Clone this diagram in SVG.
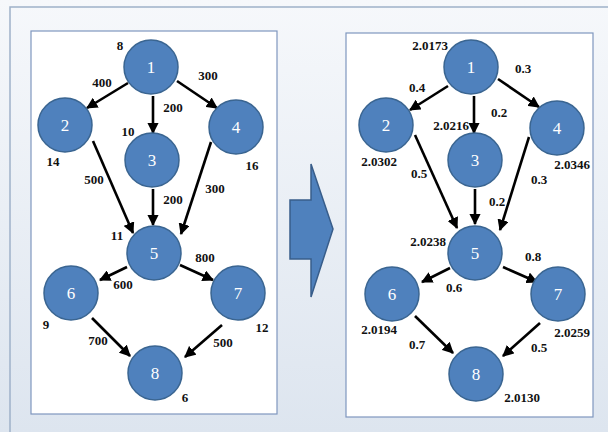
<svg xmlns="http://www.w3.org/2000/svg" width="608" height="432" viewBox="0 0 608 432">
<defs>
<linearGradient id="bg" x1="0" y1="0" x2="0" y2="1">
<stop offset="0" stop-color="#f6f8fb"/>
<stop offset="1" stop-color="#dde5ef"/>
</linearGradient>
<marker id="ah" viewBox="0 0 10 10" refX="9" refY="5" markerWidth="4.4" markerHeight="4.4" orient="auto" markerUnits="strokeWidth">
<path d="M0,0 L10,5 L0,10 Z" fill="#000"/>
</marker>
<style>
.frame{fill:#fff;stroke:#7f97be;stroke-width:1.2}
.node circle{fill:#4f81bd;stroke:#3a6591;stroke-width:1.5}
.node text{font-family:'Liberation Serif','DejaVu Serif',serif;font-size:17px;fill:#fff;text-anchor:middle}
.edges line{stroke:#000;stroke-width:2.6;marker-end:url(#ah)}
.lbl text{font-family:'Liberation Serif','DejaVu Serif',serif;font-size:13px;font-weight:bold;fill:#111;text-anchor:middle}
</style>
</defs>
<rect x="0" y="0" width="608" height="432" fill="url(#bg)"/>
<rect x="10" y="7" width="610" height="440" fill="none" stroke="#9fb1c9" stroke-width="1.5"/>
<rect class="frame" x="31" y="31" width="246" height="383"/>
<rect class="frame" x="346" y="33" width="247" height="384"/>
<path id="bigarrow" d="M290,200 L311,200 L311,164 L333,229 L311,297 L311,259 L290,259 Z" fill="#4f81bd" stroke="#385d8a" stroke-width="1.5"/>

<g id="edges-left" class="edges">
<line x1="128" y1="83" x2="87" y2="108"/>
<line x1="153" y1="96" x2="153" y2="133"/>
<line x1="177" y1="81" x2="217" y2="108"/>
<line x1="93" y1="141" x2="133" y2="233"/>
<line x1="153" y1="189" x2="153" y2="225"/>
<line x1="211" y1="142" x2="181" y2="234"/>
<line x1="127" y1="267" x2="100" y2="280"/>
<line x1="180" y1="265" x2="213" y2="280"/>
<line x1="92" y1="318" x2="130" y2="356"/>
<line x1="222" y1="325" x2="185" y2="357"/>
</g>
<g id="edges-right" class="edges">
<line x1="448" y1="86" x2="410" y2="110"/>
<line x1="474" y1="96" x2="474" y2="133"/>
<line x1="498" y1="79" x2="539" y2="107"/>
<line x1="415" y1="135" x2="457" y2="228"/>
<line x1="475" y1="189" x2="475" y2="224"/>
<line x1="529" y1="137" x2="500" y2="230"/>
<line x1="450" y1="268" x2="422" y2="282"/>
<line x1="503" y1="267" x2="537" y2="282"/>
<line x1="415" y1="316" x2="453" y2="353"/>
<line x1="540" y1="323" x2="503" y2="356"/>
</g>

<g id="L1" class="node"><circle cx="151" cy="67" r="27"/><text x="151" y="73">1</text></g>
<g id="L2" class="node"><circle cx="65" cy="125" r="27"/><text x="65" y="131">2</text></g>
<g id="L3" class="node"><circle cx="152" cy="160" r="27"/><text x="152" y="166">3</text></g>
<g id="L4" class="node"><circle cx="236" cy="127" r="27"/><text x="236" y="133">4</text></g>
<g id="L5" class="node"><circle cx="154" cy="253" r="27"/><text x="154" y="259">5</text></g>
<g id="L6" class="node"><circle cx="71" cy="293" r="27"/><text x="71" y="299">6</text></g>
<g id="L7" class="node"><circle cx="238" cy="293" r="27"/><text x="238" y="299">7</text></g>
<g id="L8" class="node"><circle cx="155" cy="373" r="27"/><text x="155" y="379">8</text></g>

<g id="R1" class="node"><circle cx="471" cy="67" r="27"/><text x="471" y="73">1</text></g>
<g id="R2" class="node"><circle cx="386" cy="125" r="27"/><text x="386" y="131">2</text></g>
<g id="R3" class="node"><circle cx="475" cy="160" r="27"/><text x="475" y="166">3</text></g>
<g id="R4" class="node"><circle cx="557" cy="128" r="27"/><text x="557" y="134">4</text></g>
<g id="R5" class="node"><circle cx="475" cy="253" r="27"/><text x="475" y="259">5</text></g>
<g id="R6" class="node"><circle cx="392" cy="294" r="27"/><text x="392" y="300">6</text></g>
<g id="R7" class="node"><circle cx="558" cy="294" r="27"/><text x="558" y="300">7</text></g>
<g id="R8" class="node"><circle cx="476" cy="374" r="27"/><text x="476" y="380">8</text></g>

<g id="labels-left" class="lbl">
<text x="120" y="50">8</text>
<text x="102" y="87">400</text>
<text x="208" y="80">300</text>
<text x="173" y="112">200</text>
<text x="128" y="136">10</text>
<text x="53" y="166">14</text>
<text x="252" y="170">16</text>
<text x="94" y="184">500</text>
<text x="215" y="193">300</text>
<text x="173" y="204">200</text>
<text x="117" y="240">11</text>
<text x="205" y="262">800</text>
<text x="123" y="289">600</text>
<text x="46" y="329">9</text>
<text x="262" y="332">12</text>
<text x="98" y="345">700</text>
<text x="223" y="347">500</text>
<text x="185" y="402">6</text>
</g>
<g id="labels-right" class="lbl">
<text x="430" y="50">2.0173</text>
<text x="523" y="73">0.3</text>
<text x="417" y="92">0.4</text>
<text x="499" y="117">0.2</text>
<text x="451" y="130">2.0216</text>
<text x="379" y="166">2.0302</text>
<text x="572" y="169">2.0346</text>
<text x="419" y="178">0.5</text>
<text x="539" y="184">0.3</text>
<text x="497" y="206">0.2</text>
<text x="428" y="246">2.0238</text>
<text x="533" y="261">0.8</text>
<text x="454" y="292">0.6</text>
<text x="379" y="334">2.0194</text>
<text x="572" y="337">2.0259</text>
<text x="417" y="349">0.7</text>
<text x="539" y="352">0.5</text>
<text x="522" y="402">2.0130</text>
</g>
</svg>
